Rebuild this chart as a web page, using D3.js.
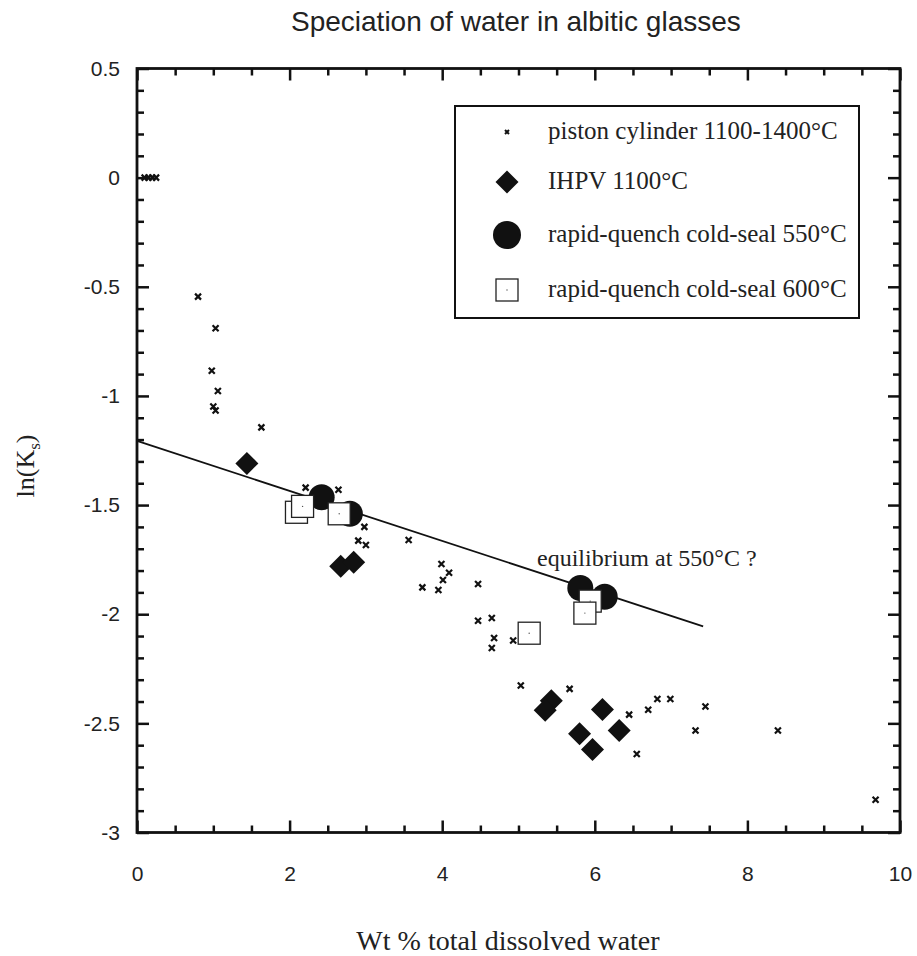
<!DOCTYPE html>
<html>
<head>
<meta charset="utf-8">
<script src="https://cdn.jsdelivr.net/npm/d3@7/dist/d3.min.js"></script>
<style>
  html, body { margin: 0; padding: 0; background: #fff; }
  svg { display: block; }
</style>
</head>
<body>
<svg id="chart" width="917" height="956"></svg>
<script>
// ---- Data ----
const pistonX = [0.10, 0.15, 0.20, 0.25, 0.80, 1.03, 0.98, 1.06, 1.00, 1.03, 1.63, 2.21, 2.64, 2.98, 2.90, 3.00,
  3.56, 3.99, 4.09, 4.01, 3.74, 3.95, 4.47, 4.47, 4.65, 4.68, 4.65, 4.93, 5.03, 5.67, 6.82, 6.99, 6.70, 6.45,
  7.45, 7.32, 6.55, 8.40, 9.68];
const pistonY = [0, 0, 0, 0, -0.545, -0.69, -0.885, -0.977, -1.048, -1.067, -1.144, -1.42, -1.43, -1.60, -1.663, -1.683,
  -1.66, -1.77, -1.81, -1.843, -1.877, -1.889, -1.862, -2.03, -2.017, -2.109, -2.155, -2.12, -2.327, -2.342, -2.388, -2.388, -2.438, -2.46,
  -2.423, -2.533, -2.64, -2.533, -2.85];
const ihpvX = [1.44, 2.67, 2.84, 5.43, 5.35, 6.10, 5.80, 6.32, 5.97];
const ihpvY = [-1.309, -1.78, -1.762, -2.396, -2.44, -2.437, -2.548, -2.533, -2.62];
const cs550X = [2.42, 2.79, 5.81, 6.13];
const cs550Y = [-1.464, -1.54, -1.88, -1.92];
const cs600X = [2.09, 2.17, 2.65, 5.94, 5.87, 5.14];
const cs600Y = [-1.533, -1.506, -1.54, -1.94, -1.995, -2.087];
const fitX = [0, 7.42];
const fitY = [-1.206, -2.056];

const xTicks = [0, 2, 4, 6, 8, 10];
const xTickLabels = ["0", "2", "4", "6", "8", "10"];
const yTicks = [0.5, 0, -0.5, -1, -1.5, -2, -2.5, -3];
const yTickLabels = ["0.5", "0", "-0.5", "-1", "-1.5", "-2", "-2.5", "-3"];

const legendLabels = ["piston cylinder 1100-1400\u00B0C", "IHPV 1100\u00B0C",
  "rapid-quench cold-seal 550\u00B0C", "rapid-quench cold-seal 600\u00B0C"];
const titleText = "Speciation of water in albitic glasses";
const xLabel = "Wt % total dissolved water";
const annotation = "equilibrium at 550\u00B0C ?";

// ---- Layout ----
const L = 137, R = 900, T = 68.5, B = 832.5;
const x = d3.scaleLinear().domain([0, 10]).range([L, R]);
const y = d3.scaleLinear().domain([-3, 0.5]).range([B, T]);

const svg = d3.select("#chart");
const sans = "'Liberation Sans', Arial, Helvetica, sans-serif";
const serif = "'Liberation Serif', 'Times New Roman', Times, serif";

// Title
svg.append("text").attr("x", 291).attr("y", 31).attr("text-anchor", "start")
  .style("font-family", sans).style("font-size", "28px").attr("fill", "#222").text(titleText);

// Axes helpers
const xMinor = d3.range(0, 10.001, 0.5).filter(v => Math.abs(v / 2 - Math.round(v / 2)) > 1e-6);
const yMinor = d3.range(-3, 0.5001, 0.1).map(v => +v.toFixed(2)).filter(v => Math.abs(v * 2 - Math.round(v * 2)) > 1e-6);

function styleAxis(g, showText) {
  g.select(".domain").remove();
  g.selectAll(".tick line").attr("stroke", "#111").attr("stroke-width", 2.5);
  g.selectAll(".tick text").style("font-family", sans).style("font-size", "21px").attr("fill", "#222");
  if (!showText) g.selectAll(".tick text").remove();
}
const fmtX = d => xTickLabels[xTicks.indexOf(d)];
const fmtY = d => yTickLabels[yTicks.indexOf(d)];

// bottom
svg.append("g").attr("transform", `translate(0,${B})`)
  .call(d3.axisBottom(x).tickValues(xTicks).tickFormat(fmtX).tickSize(-12).tickPadding(34))
  .call(g => styleAxis(g, true));
svg.append("g").attr("transform", `translate(0,${B})`)
  .call(d3.axisBottom(x).tickValues(xMinor).tickFormat("").tickSize(-7))
  .call(g => styleAxis(g, false));
// top
svg.append("g").attr("transform", `translate(0,${T})`)
  .call(d3.axisTop(x).tickValues(xTicks).tickFormat("").tickSize(-12))
  .call(g => styleAxis(g, false));
svg.append("g").attr("transform", `translate(0,${T})`)
  .call(d3.axisTop(x).tickValues(xMinor).tickFormat("").tickSize(-7))
  .call(g => styleAxis(g, false));
// left
svg.append("g").attr("transform", `translate(${L},0)`)
  .call(d3.axisLeft(y).tickValues(yTicks).tickFormat(fmtY).tickSize(-12).tickPadding(17))
  .call(g => styleAxis(g, true));
svg.append("g").attr("transform", `translate(${L},0)`)
  .call(d3.axisLeft(y).tickValues(yMinor).tickFormat("").tickSize(-7))
  .call(g => styleAxis(g, false));
// right
svg.append("g").attr("transform", `translate(${R},0)`)
  .call(d3.axisRight(y).tickValues(yTicks).tickFormat("").tickSize(-12))
  .call(g => styleAxis(g, false));
svg.append("g").attr("transform", `translate(${R},0)`)
  .call(d3.axisRight(y).tickValues(yMinor).tickFormat("").tickSize(-7))
  .call(g => styleAxis(g, false));

// frame
svg.append("rect").attr("x", L).attr("y", T).attr("width", R - L).attr("height", B - T)
  .attr("fill", "none").attr("stroke", "#111").attr("stroke-width", 2.8);

// axis labels
svg.append("text").attr("x", 508).attr("y", 950).attr("text-anchor", "middle")
  .style("font-family", serif).style("font-size", "28px").attr("fill", "#222").text(xLabel);
const yl = svg.append("text").attr("transform", "translate(34,466) rotate(-90)").attr("text-anchor", "middle")
  .style("font-family", serif).style("font-size", "26px").attr("fill", "#222");
yl.append("tspan").text("ln(K");
yl.append("tspan").attr("dy", 6).style("font-size", "17px").text("s");
yl.append("tspan").attr("dy", -6).text(")");

// fit line
svg.append("line").attr("x1", x(fitX[0])).attr("y1", y(fitY[0])).attr("x2", x(fitX[1])).attr("y2", y(fitY[1]))
  .attr("stroke", "#111").attr("stroke-width", 1.8);

// marker drawers
function crossPath(cx, cy, h) { return `M${cx - h},${cy - h}L${cx + h},${cy + h}M${cx - h},${cy + h}L${cx + h},${cy - h}`; }
function drawCross(g, cx, cy, h, sw) {
  g.append("path").attr("d", crossPath(cx, cy, h)).attr("stroke", "#111").attr("stroke-width", sw).attr("fill", "none");
}
function drawDiamond(g, cx, cy, h) {
  g.append("path").attr("d", `M${cx},${cy - h}L${cx + h},${cy}L${cx},${cy + h}L${cx - h},${cy}Z`).attr("fill", "#111");
}
function drawCircle(g, cx, cy, r) {
  g.append("circle").attr("cx", cx).attr("cy", cy).attr("r", r).attr("fill", "#111");
}
function drawSquare(g, cx, cy, h) {
  g.append("rect").attr("x", cx - h).attr("y", cy - h).attr("width", 2 * h).attr("height", 2 * h)
    .attr("fill", "#fff").attr("stroke", "#222").attr("stroke-width", 1.3);
  g.append("circle").attr("cx", cx).attr("cy", cy).attr("r", 0.7).attr("fill", "#555");
}

const marks = svg.append("g");
pistonX.forEach((v, i) => drawCross(marks, x(v), y(pistonY[i]), 3, 2.2));
ihpvX.forEach((v, i) => drawDiamond(marks, x(v), y(ihpvY[i]), 11.5));
cs550X.forEach((v, i) => drawCircle(marks, x(v), y(cs550Y[i]), 13));
cs600X.forEach((v, i) => drawSquare(marks, x(v), y(cs600Y[i]), 11));

// annotation
svg.append("text").attr("x", 537).attr("y", 566)
  .style("font-family", serif).style("font-size", "24px").attr("fill", "#222").text(annotation);

// legend
const lg = svg.append("g");
lg.append("rect").attr("x", 455).attr("y", 106).attr("width", 404).attr("height", 212)
  .attr("fill", "#fff").attr("stroke", "#111").attr("stroke-width", 2);
const rowsY = [132, 182, 235, 290];
drawCross(lg, 507, rowsY[0], 2, 2);
drawDiamond(lg, 507, rowsY[1], 11.5);
drawCircle(lg, 507, rowsY[2], 14);
drawSquare(lg, 507, rowsY[3], 11);
legendLabels.forEach((t, i) => {
  lg.append("text").attr("x", 548).attr("y", rowsY[i] + 7)
    .style("font-family", serif).style("font-size", "25px").attr("fill", "#222").text(t);
});
</script>
</body>
</html>
